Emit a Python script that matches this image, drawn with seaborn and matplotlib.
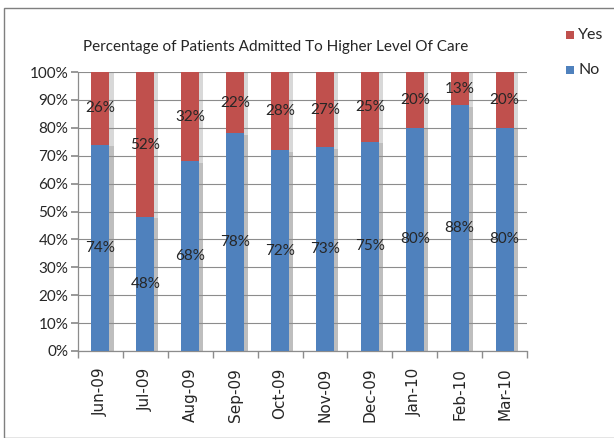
import matplotlib
matplotlib.use("Agg")
import matplotlib.pyplot as plt
import matplotlib.patheffects as pe
from matplotlib.patches import Rectangle
import seaborn as sns
import pandas as pd
import numpy as np

months = ["Jun-09", "Jul-09", "Aug-09", "Sep-09", "Oct-09", "Nov-09", "Dec-09", "Jan-10", "Feb-10", "Mar-10"]
no_vals = [74, 48, 68, 78, 72, 73, 75, 80, 88, 80]
yes_vals = [26, 52, 32, 22, 28, 27, 25, 20, 13, 20]
yticks = [0, 10, 20, 30, 40, 50, 60, 70, 80, 90, 100]

BLUE = "#4F81BD"
RED = "#C0504D"

sns.set_theme(style="white")
plt.rcParams['font.family'] = ['Lato', 'DejaVu Sans']

df = pd.DataFrame({"month": months, "No": no_vals, "Yes": yes_vals})
df["Total"] = df["No"] + df["Yes"]

fig = plt.figure(figsize=(6.14, 4.38), dpi=100)
ax = fig.add_axes([78/614, 1-351/438, (527-78)/614, (351-72)/438])

shadow = [pe.SimplePatchShadow(offset=(3, -1), shadow_rgbFace="#909090", alpha=0.35), pe.Normal()]
sns.barplot(data=df, x="month", y="Total", color=RED, saturation=1, width=0.4, ax=ax, zorder=3)
sns.barplot(data=df, x="month", y="No", color=BLUE, saturation=1, width=0.4, ax=ax, zorder=4)
for p in ax.patches:
    p.set_path_effects(shadow)
    p.set_linewidth(0)

ax.set_ylim(0, 100)
ax.set_xlim(-0.5, len(months) - 0.5)
ax.set_yticks(yticks)
ax.set_yticklabels([f"{v}%" for v in yticks], fontsize=11)
ax.yaxis.grid(True, color="#8c8c8c", linewidth=0.8, zorder=0)
ax.set_axisbelow(True)
ax.set_xlabel("")
ax.set_ylabel("")

ax.set_xticks(range(len(months)))
ax.set_xticklabels(months, rotation=90, fontsize=11, family=['DejaVu Sans'])
ax.set_xticks(np.arange(-0.5, len(months)), minor=True)
ax.tick_params(axis="x", which="major", length=0, pad=12)
ax.tick_params(axis="x", which="minor", length=5, color="#8c8c8c", direction="out", bottom=True)
ax.tick_params(axis="y", length=5, color="#8c8c8c", direction="out", left=True, pad=2)

for s in ["top", "right"]:
    ax.spines[s].set_visible(False)
for s in ["left", "bottom"]:
    ax.spines[s].set_color("#8c8c8c")
    ax.spines[s].set_linewidth(0.9)

for i, (n, y) in enumerate(zip(no_vals, yes_vals)):
    ax.text(i, n / 2, f"{n}%", ha="center", va="center", fontsize=11, zorder=6)
    top = min(n + y, 100)
    ax.text(i, (n + top) / 2, f"{y}%", ha="center", va="center", fontsize=11, zorder=6)

fig.text(276/614, 1-47/438, "Percentage of Patients Admitted To Higher Level Of Care",
         ha="center", va="center", fontsize=11)

# legend
for lab, col, yy in [("Yes", RED, 35), ("No", BLUE, 70)]:
    fig.patches.append(Rectangle((566/614, 1-(yy+4)/438), 8/614, 8/438, transform=fig.transFigure,
                                 facecolor=col, edgecolor="none"))
    fig.text(578/614, 1-yy/438, lab, ha="left", va="center", fontsize=11.5)

# chart border
fig.patches.append(Rectangle((4/614, 0), 1.2, 1-8/438, transform=fig.transFigure,
                             facecolor="none", edgecolor="#7f7f7f", linewidth=1))

fig.savefig("out.png", dpi=100)
